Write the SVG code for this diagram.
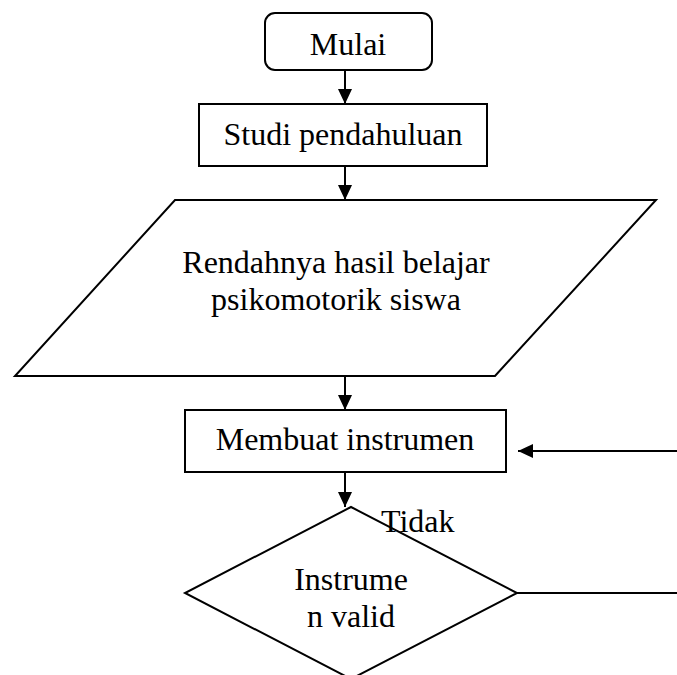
<svg xmlns="http://www.w3.org/2000/svg" width="677" height="675" viewBox="0 0 677 675">
<style>
.s{fill:#fff;stroke:#000;stroke-width:2}
.t{font-family:"Liberation Serif","Times New Roman",serif;font-size:32px;fill:#000;text-anchor:middle}
.c{stroke:#000;stroke-width:2;fill:none}
</style>
<defs>
<marker id="ah" markerWidth="15" markerHeight="14" refX="15" refY="7" orient="auto" markerUnits="userSpaceOnUse">
<path d="M0,0 L15,7 L0,14 Z" fill="#000"/>
</marker>
</defs>
<rect width="677" height="675" fill="#fff"/>
<g id="connectors">
<line class="c" x1="345" y1="70" x2="345" y2="104" marker-end="url(#ah)"/>
<line class="c" x1="345" y1="166" x2="345" y2="200" marker-end="url(#ah)"/>
<line class="c" x1="345" y1="376" x2="345" y2="410" marker-end="url(#ah)"/>
<line class="c" x1="345" y1="472" x2="345" y2="507" marker-end="url(#ah)"/>
<line class="c" x1="517" y1="593" x2="677" y2="593"/>
<line class="c" x1="677" y1="451" x2="518" y2="451" marker-end="url(#ah)"/>
</g>
<g id="mulai">
<rect class="s" x="265" y="13" width="167" height="57" rx="10"/>
<text class="t" x="348" y="55">Mulai</text>
</g>
<g id="studi">
<rect class="s" x="199" y="104" width="288" height="62"/>
<text class="t" x="343" y="145">Studi pendahuluan</text>
</g>
<g id="rendahnya">
<polygon class="s" points="175,200 656,200 495,376 15,376"/>
<text class="t" x="336" y="273">Rendahnya hasil belajar</text>
<text class="t" x="336" y="310">psikomotorik siswa</text>
</g>
<g id="membuat">
<rect class="s" x="185" y="410" width="321" height="62"/>
<text class="t" x="345" y="450">Membuat instrumen</text>
</g>
<g id="valid">
<polygon class="s" points="351,507 517,593 351,679 185,593"/>
<text class="t" x="351" y="590">Instrume</text>
<text class="t" x="351" y="627">n valid</text>
</g>
<text class="t" x="381" y="532" style="text-anchor:start">Tidak</text>
</svg>
